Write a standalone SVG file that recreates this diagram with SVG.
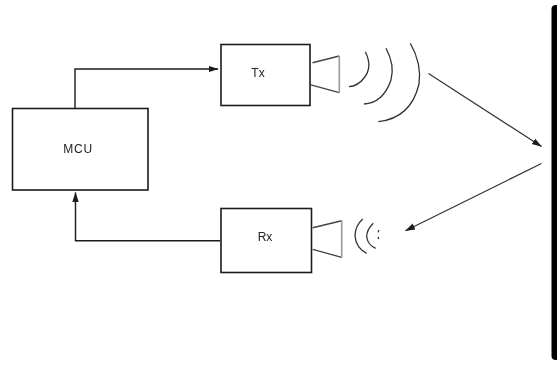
<svg xmlns="http://www.w3.org/2000/svg" width="557" height="365" viewBox="0 0 557 365">
  <style>
    .box { fill: #fff; stroke: #1c1c1c; stroke-width: 1.6; }
    .wire { fill: none; stroke: #1c1c1c; stroke-width: 1.4; }
    .horn { fill: none; stroke: #444; stroke-width: 1.4; }
    .mouth { fill: none; stroke: #999; stroke-width: 1.6; }
    .wave { fill: none; stroke: #333; stroke-width: 1.3; }
    .diag { fill: none; stroke: #333; stroke-width: 1.2; }
    .label { font-family: "Liberation Sans", Arial, sans-serif; font-size: 12px; fill: #222; text-anchor: middle; }
  </style>
  <defs>
    <filter id="soft" x="-5%" y="-5%" width="110%" height="110%"><feGaussianBlur stdDeviation="0.4"/></filter>
    <marker id="head" viewBox="0 0 10 8" refX="9.5" refY="4" markerWidth="10" markerHeight="8" markerUnits="userSpaceOnUse" orient="auto">
      <path d="M0 0.8 L10 4 L0 7.2 Z" fill="#1c1c1c"/>
    </marker>
  </defs>
  <rect width="557" height="365" fill="#fff"/>
  <g filter="url(#soft)">
    <g id="connectors">
      <path class="wire" d="M75 108 V69 H218" marker-end="url(#head)"/>
      <path class="wire" d="M220 240.7 H75.5 V192.5" marker-end="url(#head)"/>
      <path class="diag" d="M428.5 73.5 L541.5 146.5" marker-end="url(#head)"/>
      <path class="diag" d="M541.5 163.5 L405.5 230.7" marker-end="url(#head)"/>
    </g>
    <g id="mcu">
      <rect class="box" x="12.5" y="108.5" width="135.5" height="81.5"/>
      <text class="label" x="78" y="152.500" letter-spacing="0.8">MCU</text>
    </g>
    <g id="tx">
      <rect class="box" x="221" y="44.5" width="89" height="61"/>
      <text class="label" x="258" y="76.500">Tx</text>
      <path class="horn" d="M312.5 62.700 L339.300 56 M339.300 92.700 L309 84.300"/>
      <path class="mouth" d="M339.300 56 V92.700"/>
      <path class="wave" d="M365.300 51.700 Q373 67 364 78 Q358 86 349 86.700"/>
      <path class="wave" d="M386 48.300 Q395 65 391 80 Q383 103 364 104"/>
      <path class="wave" d="M410.300 43.300 Q422 64 419 84 Q411 118 378.300 121.700"/>
    </g>
    <g id="rx">
      <rect class="box" x="221" y="208.500" width="90.500" height="64"/>
      <text class="label" x="265" y="240.500">Rx</text>
      <path class="horn" d="M312.700 227.700 L341.700 220.700 M341.700 257.300 L312.700 249.300"/>
      <path class="mouth" d="M341.700 220.700 V257.300"/>
      <path class="wave" d="M362.700 219 Q355 226 355 236 Q356 248 366.700 253.300"/>
      <path class="wave" d="M373.300 223.300 Q366.500 230 366.700 237 Q368 245 375.700 248.300"/>
      <path class="wave" stroke-dasharray="2.500 4.500" d="M379 230 Q376 236 381 243"/>
    </g>
    <path id="edge" d="M557 5 H556 Q551.500 5 551.500 9 V356 Q551.500 360 556 360 H557 Z" fill="#000"/>
  </g>
</svg>
